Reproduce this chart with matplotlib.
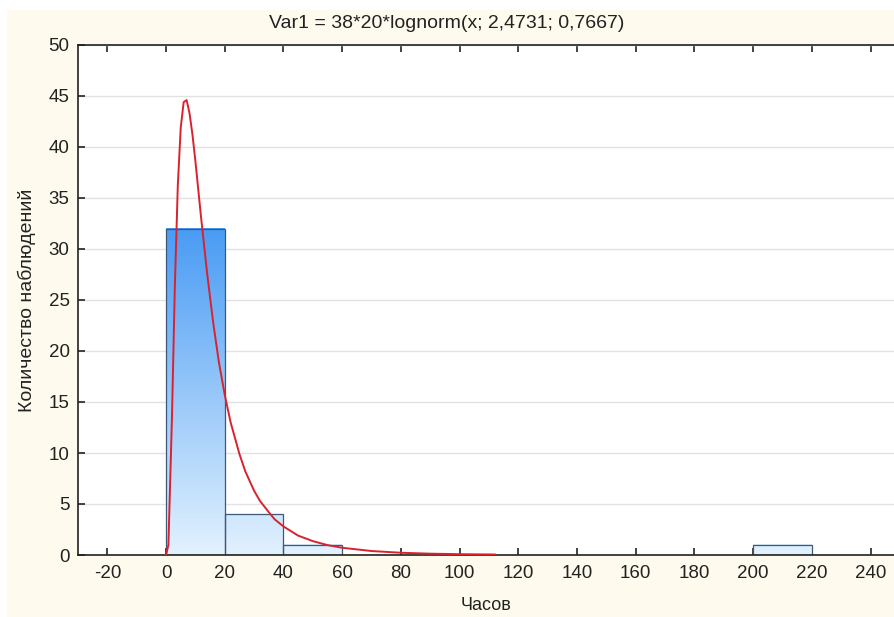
import numpy as np
import matplotlib
matplotlib.use("Agg")
import matplotlib.pyplot as plt
from matplotlib.colors import LinearSegmentedColormap
from matplotlib.patches import Rectangle

plt.rcParams['font.family'] = ['Liberation Sans', 'DejaVu Sans']
plt.rcParams['axes.unicode_minus'] = False

# histogram bins (hours) and counts
bin_left = [0, 20, 40, 200]
bin_width = 20
counts = [32, 4, 1, 1]

# fitted lognormal curve
curve_x = [0, 0.8, 2, 3, 4, 5, 6, 7, 8, 9, 10, 12, 14, 16, 18, 20, 22, 25,
           27, 30, 32, 35, 37, 40, 45, 50, 55, 60, 70, 80, 90, 100, 112]
curve_y = [0, 1.0, 13.4, 26.4, 36.2, 41.9, 44.4, 44.6, 43.3, 41.2, 38.6,
           32.9, 27.6, 22.9, 18.9, 15.7, 13.0, 9.9, 8.2, 6.3, 5.3, 4.2, 3.5,
           2.8, 1.9, 1.36, 0.97, 0.71, 0.39, 0.22, 0.13, 0.08, 0.05]

x_ticks = list(range(-20, 241, 20))
y_ticks = list(range(0, 51, 5))

title = "Var1 = 38*20*lognorm(x; 2,4731; 0,7667)"
xlabel = "Часов"
ylabel = "Количество наблюдений"

cream = "#fefbee"

fig = plt.figure(figsize=(8.94, 6.17), dpi=100, facecolor=cream)
# thin white strips at the top and left edge, as in the screenshot
fig.patches.append(Rectangle((0, 1 - 10 / 617), 1, 10 / 617,
                             transform=fig.transFigure, facecolor="white",
                             edgecolor="none"))
fig.patches.append(Rectangle((0, 0), 7 / 894, 1,
                             transform=fig.transFigure, facecolor="white",
                             edgecolor="none"))
ax = fig.add_axes([78 / 894, 1 - 555 / 617, 1 - 78 / 894, (555 - 45) / 617])
ax.set_facecolor("white")

ax.yaxis.grid(True, color="#e2e2e2", linewidth=1.0, zorder=0)
ax.set_axisbelow(True)

# gradient filled bars, colour tied to height (0 -> light, 32 -> blue)
cmap = LinearSegmentedColormap.from_list("bar", ["#e2f1fe", "#4a9cf4"])
top = max(counts)
for x0, h in zip(bin_left, counts):
    grad = np.linspace(0, h / top, 100).reshape(-1, 1)
    ax.imshow(grad, cmap=cmap, vmin=0, vmax=1, origin="lower", aspect="auto",
              extent=[x0, x0 + bin_width, 0, h], zorder=1, interpolation="bicubic")
    ax.add_patch(Rectangle((x0, 0), bin_width, h, facecolor="none",
                           edgecolor="#3d5878", linewidth=0.9, zorder=2))

ax.plot(curve_x, curve_y, color="#d9222e", linewidth=1.4, zorder=3)

ax.set_xlim(-30, 248)
ax.set_ylim(0, 50)
ax.set_xticks(x_ticks)
ax.set_yticks(y_ticks)

for side in ["left", "bottom", "top"]:
    ax.spines[side].set_color("#222222")
    ax.spines[side].set_linewidth(1.2)
ax.spines["right"].set_visible(False)

ax.tick_params(axis="x", direction="in", length=5, width=1.2, top=True,
               labelsize=13.5, pad=7, colors="#222222")
ax.tick_params(axis="y", direction="in", length=5, width=1.2,
               labelsize=13.5, pad=6, colors="#222222")

fig.text(0.5, 1 - 24 / 617, title, ha="center", va="center", fontsize=14,
         color="#222222")
fig.text(486 / 894, 1 - 606 / 617, xlabel, ha="center", va="center",
         fontsize=13, color="#222222")
fig.text(27 / 894, 1 - 300 / 617, ylabel, ha="center", va="center",
         rotation=90, fontsize=14, color="#222222")

fig.savefig("out.png", dpi=100, facecolor=fig.get_facecolor())
